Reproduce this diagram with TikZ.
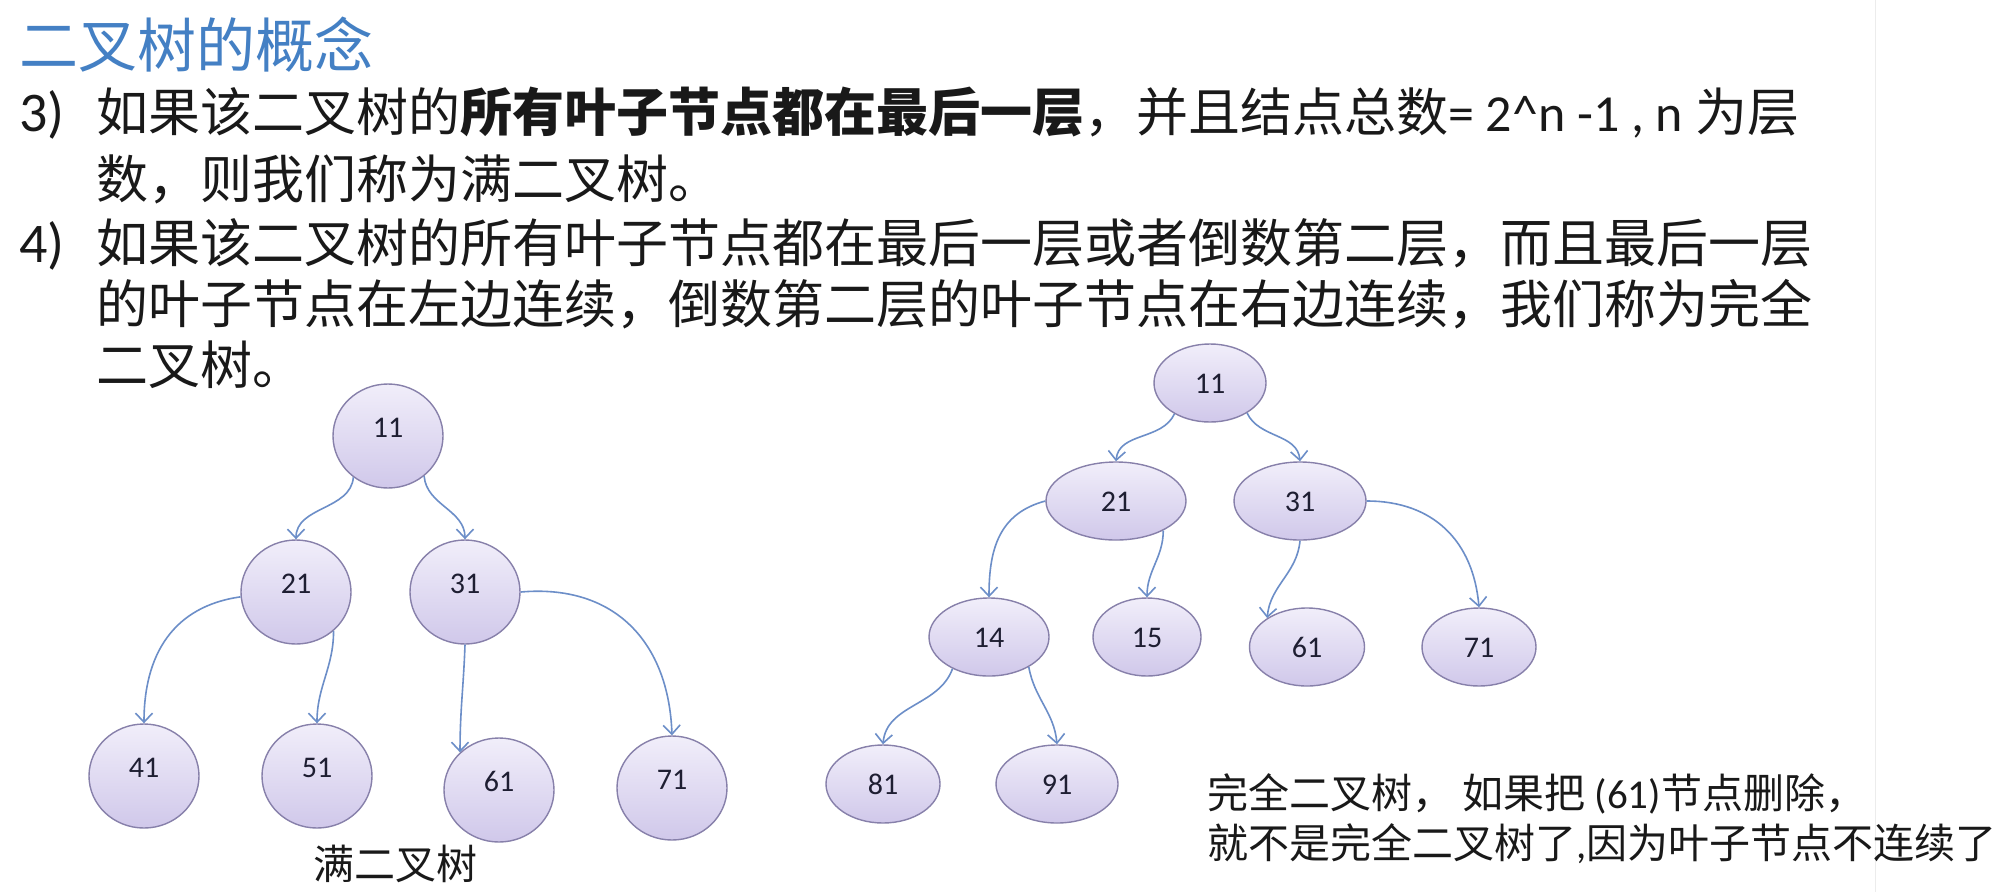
\documentclass[tikz,border=0pt]{standalone}
\usepackage{fontspec}
\setmainfont{Noto Sans CJK SC}
\newfontfamily\lat{Carlito}
\usetikzlibrary{shapes.geometric,arrows.meta,shadings}
\definecolor{titleblue}{RGB}{68,128,196}
\definecolor{edgeblue}{RGB}{108,142,200}
\definecolor{nodeborder}{RGB}{135,128,170}
\definecolor{nodetop}{RGB}{241,238,250}
\definecolor{nodebot}{RGB}{208,200,234}
\definecolor{numcol}{RGB}{30,30,50}
\definecolor{edgeline}{RGB}{236,236,236}
\tikzset{
 tnode/.style={ellipse, draw=nodeborder, line width=1.4pt, top color=nodetop, bottom color=nodebot, inner sep=0pt, font=\lat\fontsize{30}{30}\selectfont, text=numcol},
 bignode/.style={tnode, minimum width=110pt, minimum height=104pt, text height=20pt, text depth=18pt},
 flatnode/.style={tnode, minimum height=78pt, text height=20pt, text depth=0pt},
 conn/.style={draw=edgeblue, line width=1.6pt, -{Straight Barb[length=9pt,width=17pt]}},
 bodytext/.style={anchor=base west, inner sep=0pt, font=\fontsize{52}{60}\selectfont, text=black!90},
 notetext/.style={anchor=base west, inner sep=0pt, font=\fontsize{41}{48}\selectfont, text=black!90},
}
\begin{document}
\begin{tikzpicture}[x=1pt,y=1pt]
\useasboundingbox (0,0) rectangle (2000,-892);
\fill[white] (0,0) rectangle (2000,-892);
\draw[edgeline, line width=1pt] (1875,0) -- (1875,-892);

% title and text
\node[anchor=base west, inner sep=0pt, font=\fontsize{59}{62}\selectfont, text=titleblue] (title) at (19,-67) {二叉树的概念};
\node[bodytext, font=\lat\fontsize{56}{60}\selectfont] (n3) at (19,-131) {3)};
\node[bodytext] (l1) at (96,-131) {如果该二叉树的{\bfseries 所有叶子节点都在最后一层}，并且结点总数{\lat = 2\textasciicircum n -1 , n }为层};
\node[bodytext] (l2) at (96,-198) {数，则我们称为满二叉树。};
\node[bodytext, font=\lat\fontsize{56}{60}\selectfont] (n4) at (19,-262) {4)};
\node[bodytext] (l3) at (96,-262) {如果该二叉树的所有叶子节点都在最后一层或者倒数第二层，而且最后一层};
\node[bodytext] (l4) at (96,-323) {的叶子节点在左边连续，倒数第二层的叶子节点在右边连续，我们称为完全};
\node[bodytext] (l5) at (96,-384) {二叉树。};

% full binary tree
\node[bignode] (a11) at (388,-436) {11};
\node[bignode] (a21) at (296,-592) {21};
\node[bignode] (a31) at (465,-592) {31};
\node[bignode] (a41) at (144,-776) {41};
\node[bignode] (a51) at (317,-776) {51};
\node[bignode] (a61) at (499,-790) {61};
\node[bignode] (a71) at (672,-788) {71};

\draw[conn] (a11.230) to[out=-95,in=90] (a21.north);
\draw[conn] (a11.312) to[out=-85,in=90] (a31.north);
\draw[conn] (a21.185) to[out=188,in=90,looseness=1.1] (a41.north);
\draw[conn] (a21.314) to[out=-90,in=90] (a51.north);
\draw[conn] (a31.south) to[out=-92,in=90] (a61.136);
\draw[conn] (a31.east) to[out=5,in=92,looseness=1.15] (a71.north);

\node[anchor=base, inner sep=0pt, font=\fontsize{41}{48}\selectfont, text=black!90] (fulllabel) at (395,-879) {满二叉树};

% complete binary tree
\node[flatnode, minimum width=112pt] (b11) at (1210,-383) {11};
\node[flatnode, minimum width=140pt] (b21) at (1116,-501) {21};
\node[flatnode, minimum width=132pt] (b31) at (1300,-501) {31};
\node[flatnode, minimum width=120pt] (b14) at (989,-637) {14};
\node[flatnode, minimum width=108pt] (b15) at (1147,-637) {15};
\node[flatnode, minimum width=115pt] (b61) at (1307,-647) {61};
\node[flatnode, minimum width=114pt] (b71) at (1479,-647) {71};
\node[flatnode, minimum width=114pt] (b81) at (883,-784) {81};
\node[flatnode, minimum width=122pt] (b91) at (1057,-784) {91};

\draw[conn] (b11.221) to[out=-115,in=85] (b21.north);
\draw[conn] (b11.321) to[out=-65,in=95] (b31.north);
\draw[conn] (b21.west) to[out=195,in=90,looseness=1.1] (b14.north);
\draw[conn] (b21.328) to[out=-90,in=90] (b15.north);
\draw[conn] (b31.south) to[out=-95,in=85] (b61.144);
\draw[conn] (b31.east) to[out=0,in=95,looseness=1.1] (b71.north);
\draw[conn] (b14.221) to[out=-110,in=85] (b81.north);
\draw[conn] (b14.323) to[out=-80,in=95] (b91.north);

\node[notetext] (note1) at (1207,-808) {完全二叉树， 如果把 {\lat (61)}节点删除，};
\node[notetext] (note2) at (1207,-858) {就不是完全二叉树了{\lat ,}因为叶子节点不连续了};
\end{tikzpicture}
\end{document}
